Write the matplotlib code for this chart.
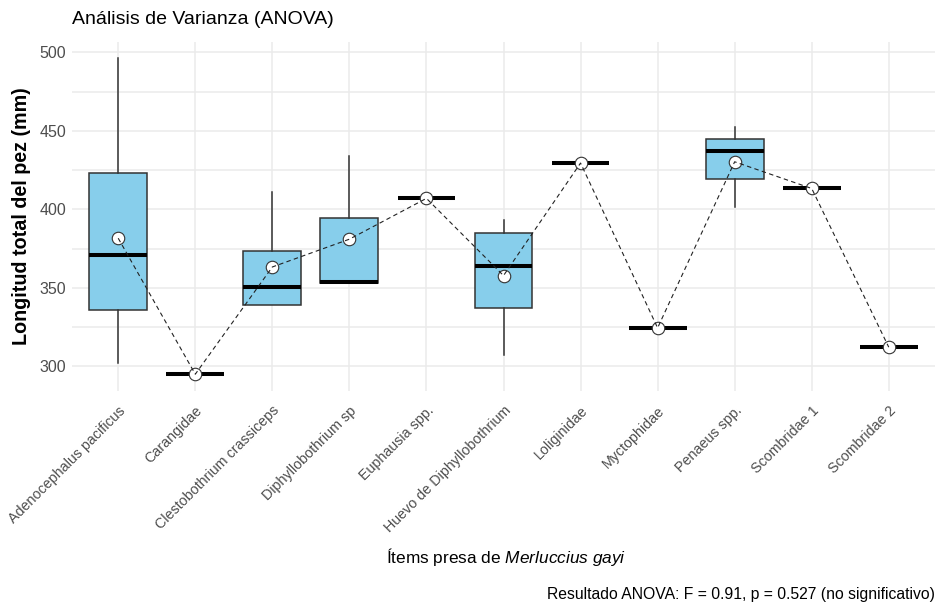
import matplotlib
matplotlib.use("Agg")
import matplotlib.pyplot as plt
import numpy as np

plt.rcParams['font.family'] = ['Liberation Sans', 'DejaVu Sans']
plt.rcParams['mathtext.fontset'] = 'custom'
plt.rcParams['mathtext.rm'] = 'Liberation Sans'
plt.rcParams['mathtext.it'] = 'Liberation Sans:italic'

categories = ["Adenocephalus pacificus", "Carangidae", "Clestobothrium crassiceps",
              "Diphyllobothrium sp", "Euphausia spp.", "Huevo de Diphyllobothrium",
              "Loliginidae", "Myctophidae", "Penaeus spp.", "Scombridae 1", "Scombridae 2"]
whisker_low = [302, 295, 339, 353, 407, 307.5, 429.5, 324.5, 401.5, 413.3, 312.2]
q1          = [336, 295, 339.3, 353, 407, 337.4, 429.5, 324.5, 419.2, 413.3, 312.2]
medians     = [371.2, 295, 350.6, 354, 407, 364.2, 429.5, 324.5, 437.1, 413.3, 312.2]
q3          = [423.2, 295, 373.5, 394.2, 407, 385.0, 429.5, 324.5, 444.9, 413.3, 312.2]
whisker_high= [496.4, 295, 411.1, 434.3, 407, 393.5, 429.5, 324.5, 452.6, 413.3, 312.2]
means       = [381.6, 295, 363.3, 381.0, 407, 357.8, 429.5, 324.5, 430.3, 413.3, 312.2]
yticks = [300, 350, 400, 450, 500]

fig = plt.figure(figsize=(9.39, 6.10), dpi=100)
ax = fig.add_axes([72/939, 1-391/610, (935-72)/939, (391-42)/610])

grid_c = "#EBEBEB"
pos = np.arange(1, len(categories) + 1)

stats = []
for i in range(len(categories)):
    stats.append(dict(med=medians[i], q1=q1[i], q3=q3[i], whislo=whisker_low[i],
                      whishi=whisker_high[i], fliers=[], label=categories[i]))
ax.bxp(stats, positions=pos, widths=0.75, patch_artist=True, showcaps=False,
       manage_ticks=False,
       boxprops=dict(facecolor="#87CEEB", edgecolor="#333333", lw=1.1),
       whiskerprops=dict(color="#333333", lw=1.1),
       medianprops=dict(color="black", lw=2.9, solid_capstyle='butt'),
       zorder=2)

ax.plot(pos, means, ls='none', marker='o', ms=9, mfc='white', mec='#333333', mew=0.8, zorder=3)
ax.plot(pos, means, ls=(0, (4, 3)), color='#222222', lw=0.8, zorder=4)

ax.set_xlim(0.4, len(categories) + 0.6)
ax.set_ylim(284.3, 506.6)
ax.set_yticks(yticks)
ax.set_yticks([325, 375, 425, 475], minor=True)
ax.set_xticks(pos)
ax.grid(True, which='major', color=grid_c, lw=1.1)
ax.grid(True, which='minor', axis='y', color=grid_c, lw=1.1)
ax.set_axisbelow(True)
for s in ax.spines.values():
    s.set_visible(False)
ax.tick_params(which='both', length=0)

ax.set_xticklabels(categories, rotation=45, ha='right', rotation_mode='anchor',
                   fontsize=10.3, color='#4D4D4D')
ax.tick_params(axis='x', pad=9)
ax.set_yticklabels([str(v) for v in yticks], fontsize=11.5, color='#4D4D4D')
ax.tick_params(axis='y', pad=4)

ax.set_ylabel("Longitud total del pez (mm)", fontsize=14.2, fontweight='bold', labelpad=6)
fig.text(72/939, 1-20/610, "Análisis de Varianza (ANOVA)", fontsize=14, ha='left', va='center')
fig.text(506/939, 1-557/610, r"Ítems presa de $\it{Merluccius\ gayi}$", fontsize=12.4, ha='center', va='center')
fig.text(935/939, 1-594/610, "Resultado ANOVA: F = 0.91, p = 0.527 (no significativo)",
         fontsize=11.3, ha='right', va='center')

fig.savefig("out.png", dpi=100)
